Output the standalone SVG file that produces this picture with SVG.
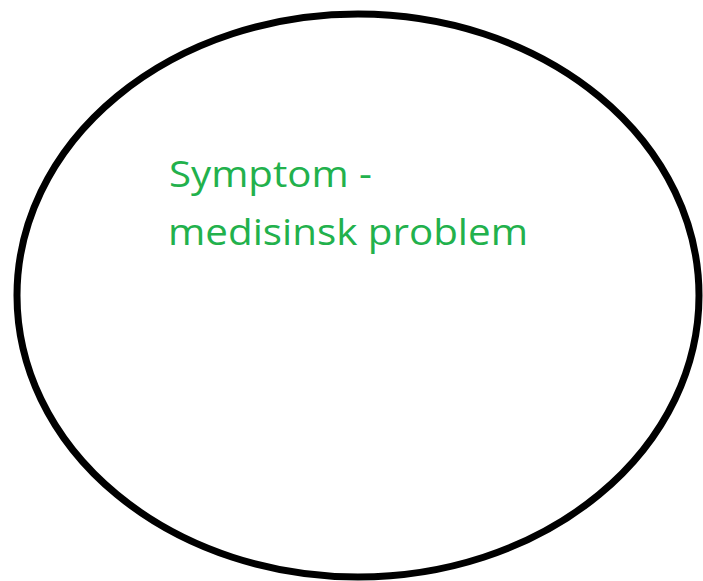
<svg xmlns="http://www.w3.org/2000/svg" width="703" height="581" viewBox="0 0 703 581">
<style>
.lbl{font-family:"Open Sans","Liberation Sans",sans-serif;font-size:37px;fill:#22b14c}
</style>
<rect width="703" height="581" fill="#ffffff"/>
<g id="symptom">
<ellipse cx="358" cy="295.5" rx="341" ry="281.5" fill="none" stroke="#000000" stroke-width="7"/>
<text class="lbl" x="169" y="187" textLength="203" lengthAdjust="spacingAndGlyphs">Symptom -</text>
<text class="lbl" x="168" y="245" textLength="360" lengthAdjust="spacingAndGlyphs">medisinsk problem</text>
</g>
</svg>
